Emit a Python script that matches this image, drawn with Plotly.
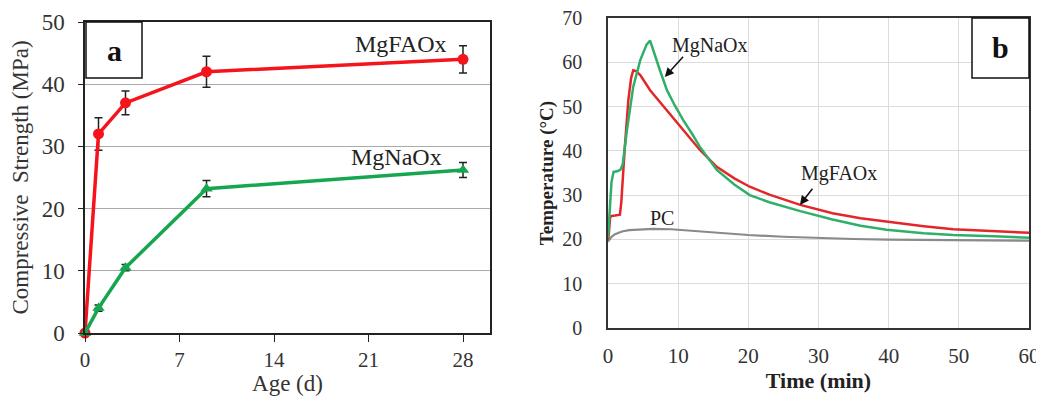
import plotly.graph_objects as go

# ---- Panel a: compressive strength ----
age_days = [0, 1, 3, 9, 28]
mgfaox_strength = [0, 32, 37, 42, 44]
mgfaox_err = [0, 2.6, 1.9, 2.5, 2.2]
mgnaox_strength = [0, 4, 10.5, 23.2, 26.2]
mgnaox_err = [0, 0.5, 0.5, 1.3, 1.2]
age_ticks = [0, 7, 14, 21, 28]
strength_ticks = [0, 10, 20, 30, 40, 50]

# ---- Panel b: temperature ----
t_naox = [0, 0.2, 0.5, 0.8, 1.0, 1.5, 1.8, 2.1, 2.7, 3.6, 4.6, 5.5, 6.0, 7.4, 8.4, 9.5,
          10.7, 12.0, 13.1, 15.5, 18, 20.2, 23, 27.4, 32, 36, 39.7, 45, 49.2, 55, 60]
temp_naox = [20.3, 26.5, 33, 35.3, 35.3, 35.5, 35.8, 37, 44.7, 54.5, 60.5, 64, 64.9, 58.2, 53.7, 50.3,
             47, 43.8, 40.9, 35.7, 32.4, 30, 28.4, 26.4, 24.5, 23.1, 22.2, 21.4, 21.0, 20.7, 20.4]
t_faox = [0, 0.1, 0.3, 0.5, 1.0, 1.7, 1.9, 2.0, 2.2, 2.4, 2.9, 3.3, 3.6, 4.0, 4.6, 6.0, 8.4,
          10.7, 13.1, 15.5, 18, 20.2, 23, 27.4, 32, 36, 39.7, 45, 49.2, 55, 60]
temp_faox = [20, 21, 25, 25.3, 25.4, 25.6, 28.5, 32, 36, 40.9, 51.5, 56.5, 58.2, 58.0, 57.1, 53.7, 49.2,
             44.7, 40.2, 36.4, 33.8, 31.9, 30.1, 27.8, 25.9, 24.8, 24.0, 23.0, 22.3, 21.8, 21.5]
t_pc = [0, 0.5, 1, 2, 3, 4.5, 6.4, 9, 12, 16, 20, 25, 30, 35, 40, 50, 60]
temp_pc = [19.5, 20.6, 21.2, 21.8, 22.1, 22.3, 22.4, 22.3, 21.9, 21.4, 21.0, 20.6, 20.3, 20.1, 19.95, 19.8, 19.7]
time_ticks = [0, 10, 20, 30, 40, 50, 60]
temp_ticks = [0, 10, 20, 30, 40, 50, 60, 70]

SERIF = "Liberation Serif"
OFF = 8  # page body margin
W, H = 1044 - OFF, 396 - OFF

def px_x(p):
    return (p - OFF) / W

def px_y(p):
    return 1 - (p - OFF) / H

fig = go.Figure()

fig.add_trace(go.Scatter(
    x=age_days, y=mgfaox_strength, mode="lines+markers", name="MgFAOx",
    line=dict(color="#f5141c", width=3.5),
    marker=dict(symbol="circle", size=11, color="#f5141c"),
    error_y=dict(type="data", array=mgfaox_err, color="#222", thickness=1.5, width=4),
    xaxis="x", yaxis="y", showlegend=False, cliponaxis=False))
fig.add_trace(go.Scatter(
    x=age_days, y=mgnaox_strength, mode="lines+markers", name="MgNaOx",
    line=dict(color="#16a64f", width=3.5),
    marker=dict(symbol="triangle-up", size=11, color="#16a64f"),
    error_y=dict(type="data", array=mgnaox_err, color="#222", thickness=1.5, width=4),
    xaxis="x", yaxis="y", showlegend=False, cliponaxis=False))

fig.add_trace(go.Scatter(x=t_pc, y=temp_pc, mode="lines", line=dict(color="#8a8a8a", width=2.2),
                         xaxis="x2", yaxis="y2", showlegend=False, name="PC"))
fig.add_trace(go.Scatter(x=t_faox, y=temp_faox, mode="lines", line=dict(color="#e3262a", width=2.5),
                         xaxis="x2", yaxis="y2", showlegend=False, name="MgFAOx"))
fig.add_trace(go.Scatter(x=t_naox, y=temp_naox, mode="lines", line=dict(color="#2eb06a", width=2.5),
                         xaxis="x2", yaxis="y2", showlegend=False, name="MgNaOx"))

tickfont = dict(family=SERIF, size=21, color="#333")

fig.update_layout(
    width=W, height=H,
    margin=dict(l=0, r=0, t=0, b=0),
    paper_bgcolor="white", plot_bgcolor="white",
    xaxis=dict(domain=[px_x(85), px_x(490)], range=[0, 30], tickvals=age_ticks, automargin=False,
               showgrid=False, zeroline=False, showline=True, linecolor="#222", linewidth=1.5,
               mirror=True, ticks="outside", ticklen=7, tickcolor="#222", tickfont=tickfont,
               ticklabelstandoff=0, ticklabeloverflow="allow",
               title=dict(text="Age (d)", font=dict(family=SERIF, size=23, color="#333"), standoff=4),
               anchor="y"),
    yaxis=dict(domain=[px_y(333), px_y(22)], range=[0, 50], tickvals=strength_ticks, automargin=False,
               showgrid=True, gridcolor="#aaaaaa", gridwidth=1.3, zeroline=False,
               showline=True, linecolor="#222", linewidth=1.5, mirror=True,
               ticks="outside", ticklen=5, tickcolor="#222", tickfont=dict(family=SERIF, size=23, color="#333"),
               ticklabelstandoff=9, ticklabeloverflow="allow",
               title=dict(text="Compressive  Strength (MPa)", font=dict(family=SERIF, size=23, color="#333"), standoff=10),
               anchor="x"),
    xaxis2=dict(domain=[px_x(608), px_x(1029)], range=[0, 60], tickvals=time_ticks, automargin=False,
                showgrid=True, gridcolor="#dcdcdc", gridwidth=1, zeroline=False,
                showline=True, linecolor="#333", linewidth=1.5, mirror=True,
                ticks="", tickfont=tickfont, ticklabelstandoff=8, ticklabeloverflow="allow",
                title=dict(text="<b>Time (min)</b>", font=dict(family=SERIF, size=22, color="#222"), standoff=2),
                anchor="y2"),
    yaxis2=dict(domain=[px_y(328), px_y(18)], range=[0, 70], tickvals=temp_ticks, automargin=False,
                showgrid=True, gridcolor="#dcdcdc", gridwidth=1, zeroline=False,
                showline=True, linecolor="#333", linewidth=1.5, mirror=True,
                ticks="", tickfont=dict(family=SERIF, size=20, color="#333"), ticklabelstandoff=20,
                ticklabeloverflow="allow",
                title=dict(text="<b>Temperature (°C)</b>", font=dict(family=SERIF, size=19, color="#222"), standoff=4),
                anchor="x2"),
)

# panel letter boxes
fig.add_shape(type="rect", xref="paper", yref="paper",
              x0=px_x(86), x1=px_x(142), y0=px_y(78), y1=px_y(22),
              line=dict(color="#111", width=1.5), fillcolor="white")
fig.add_annotation(xref="paper", yref="paper", x=px_x(114), y=px_y(50), text="<b>a</b>",
                   xanchor="center", yanchor="middle",
                   showarrow=False, font=dict(family=SERIF, size=30, color="#111"))
fig.add_shape(type="rect", xref="paper", yref="paper",
              x0=px_x(972), x1=px_x(1029), y0=px_y(78), y1=px_y(18),
              line=dict(color="#111", width=1.5), fillcolor="white")
fig.add_annotation(xref="paper", yref="paper", x=px_x(1000), y=px_y(48), text="<b>b</b>",
                   xanchor="center", yanchor="middle",
                   showarrow=False, font=dict(family=SERIF, size=30, color="#111"))

# series labels, panel a
lab = dict(family=SERIF, size=24, color="#222")
fig.add_annotation(xref="x", yref="y", x=23.4, y=46.5, text="MgFAOx", showarrow=False, font=lab)
fig.add_annotation(xref="x", yref="y", x=23.1, y=28.3, text="MgNaOx", showarrow=False, font=lab)

# series labels, panel b
lab2 = dict(family=SERIF, size=20, color="#222")
fig.add_annotation(xref="x2", yref="y2", x=14.6, y=63.9, text="MgNaOx", showarrow=False, font=lab2)
fig.add_annotation(xref="x2", yref="y2", x=32.9, y=35.0, text="MgFAOx", showarrow=False, font=lab2)
fig.add_annotation(xref="x2", yref="y2", x=7.7, y=24.9, text="PC", showarrow=False, font=lab2)
fig.add_annotation(xref="x2", yref="y2", x=8.1, y=56.7, ax=10.9, ay=61.6, axref="x2", ayref="y2",
                   text="", showarrow=True, arrowhead=2, arrowsize=1.2, arrowwidth=1.5, arrowcolor="#111")
fig.add_annotation(xref="x2", yref="y2", x=27.35, y=27.8, ax=29.3, ay=31.8, axref="x2", ayref="y2",
                   text="", showarrow=True, arrowhead=2, arrowsize=1.2, arrowwidth=1.5, arrowcolor="#111")

fig.write_html("out.html")
